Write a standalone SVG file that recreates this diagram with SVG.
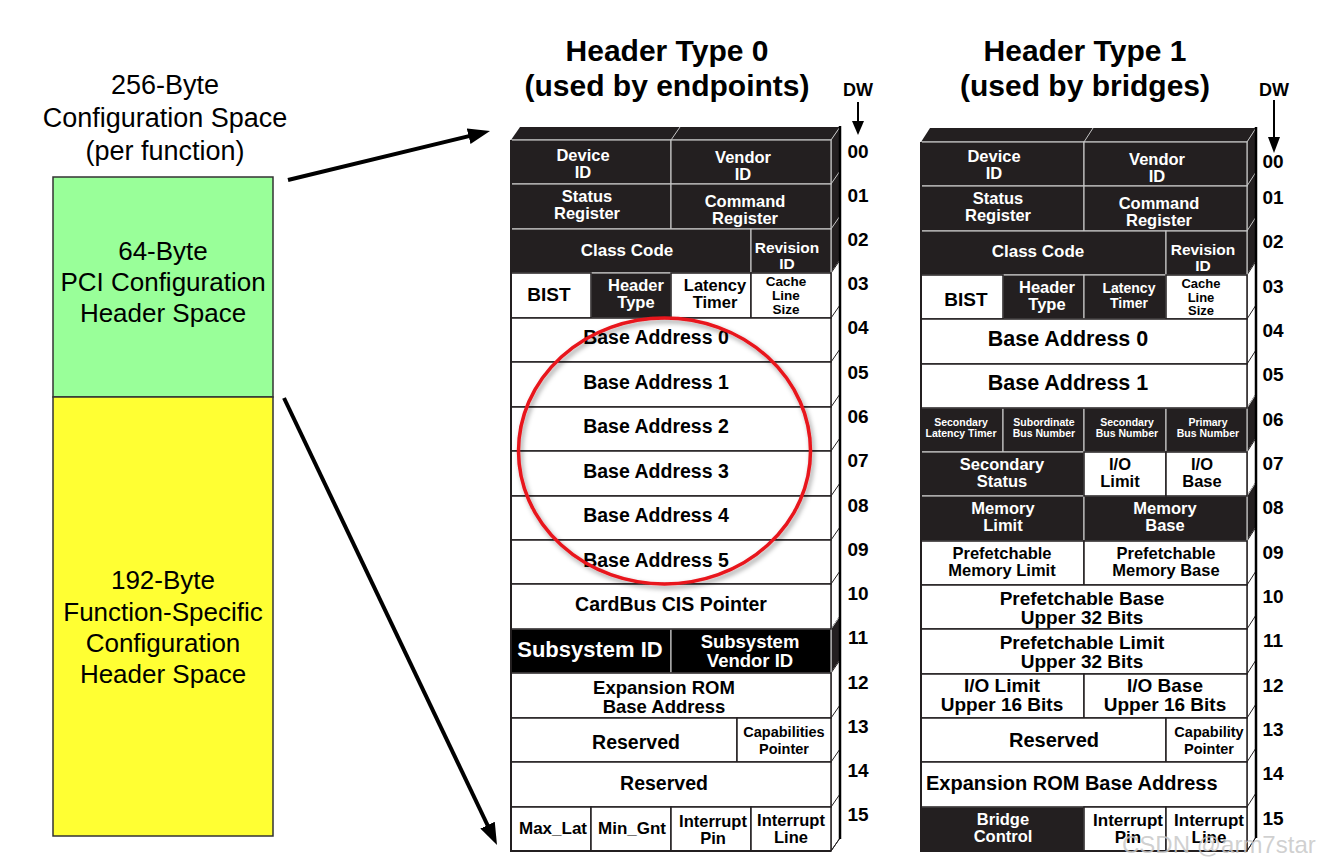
<svg xmlns="http://www.w3.org/2000/svg" width="1324" height="865" viewBox="0 0 1324 865">
<defs>
<style>
text{font-family:"Liberation Sans",Arial,Helvetica,sans-serif}
.b{font-weight:bold;text-anchor:middle}
.tw{fill:#fff}
.tk{fill:#000}
.dk{fill:#231f20;stroke:#c4c4c4;stroke-width:1.2}
.bk{fill:#000;stroke:#c4c4c4;stroke-width:1.2}
.wh{fill:#fff;stroke:#231f20;stroke-width:1.5}
.sd{fill:#fff;stroke:#231f20;stroke-width:1}
.sk{fill:#231f20;stroke:#c4c4c4;stroke-width:1}
.dg{stroke:#231f20;stroke-width:1;fill:none}
.lg{stroke:#c4c4c4;stroke-width:1;fill:none}
.s10{font-size:10.5px}.s13{font-size:13.5px}.s14{font-size:14.5px}.s15{font-size:15.5px}.s16{font-size:16.5px}.s17{font-size:17px}.s18{font-size:18.5px}.s19{font-size:19.5px}.s20{font-size:19px}.s21{font-size:21.5px}.s22{font-size:22px}
.ttl{font-size:30px;font-weight:bold;text-anchor:middle;fill:#000}
.lbl{font-size:26px;text-anchor:middle;fill:#000}
.num{font-size:19px;font-weight:bold;text-anchor:middle;fill:#000}
.dw{font-size:18px;font-weight:bold;text-anchor:middle;fill:#000}
</style>
<marker id="ah" markerUnits="userSpaceOnUse" markerWidth="24" markerHeight="18" refX="12" refY="8" orient="auto"><path d="M0,0 L22,8 L0,16 Z" fill="#000"/></marker>
<filter id="sh" x="-20%" y="-20%" width="140%" height="140%"><feDropShadow dx="2" dy="3" stdDeviation="2.5" flood-color="#000" flood-opacity="0.4"/></filter>
</defs>
<rect width="1324" height="865" fill="#fff"/>

<g id="title-left">
<text class="lbl" style="font-size:27px"><tspan x="165" y="94">256-Byte</tspan><tspan x="165" y="127">Configuration Space</tspan><tspan x="165" y="160">(per function)</tspan></text>
</g>
<g id="box-64">
<rect x="53" y="177" width="220" height="220" fill="#99ff99" stroke="#333" stroke-width="1.5"/>
<text class="lbl"><tspan x="163" y="260">64-Byte</tspan><tspan x="163" y="291">PCI Configuration</tspan><tspan x="163" y="322">Header Space</tspan></text>
</g>
<g id="box-192">
<rect x="53" y="397" width="220" height="439" fill="#ffff33" stroke="#333" stroke-width="1.5"/>
<text class="lbl"><tspan x="163" y="589">192-Byte</tspan><tspan x="163" y="621">Function-Specific</tspan><tspan x="163" y="652">Configuration</tspan><tspan x="163" y="683">Header Space</tspan></text>
</g>

<g id="titles">
<text class="ttl"><tspan x="667" y="61">Header Type 0</tspan><tspan x="667" y="96">(used by endpoints)</tspan></text>
<text class="ttl"><tspan x="1085" y="61">Header Type 1</tspan><tspan x="1085" y="96">(used by bridges)</tspan></text>
</g>

<!-- ===== Header Type 0 ===== -->
<g id="t0-frame">
<polygon points="511,140 520,127 840,127 831,140" fill="#231f20"/>
<line class="lg" x1="671" y1="140" x2="680" y2="127"/>
<line class="lg" x1="511" y1="140" x2="831" y2="140"/>
<polygon class="sk" points="831,140 840,127 840,260 831,273"/>
<line class="lg" x1="831" y1="184" x2="840" y2="171"/>
<line class="lg" x1="831" y1="229" x2="840" y2="216"/>
<polygon class="sd" points="831,273 840,260 840,616 831,629"/>
<polygon class="sk" points="831,629 840,616 840,660 831,673"/>
<polygon class="sd" points="831,673 840,660 840,838 831,851"/>
<path class="dg" d="M831,318 L840,305 M831,362 L840,349 M831,407 L840,394 M831,451 L840,438 M831,496 L840,483 M831,540 L840,527 M831,584 L840,571 M831,718 L840,705 M831,762 L840,749 M831,807 L840,794 M831,851 L840,838"/>
</g>
<g id="t0-dev"><rect class="dk" x="511" y="140" width="160" height="44"/><text class="b tw s16"><tspan x="583" y="160.5">Device</tspan><tspan x="583" y="177.5">ID</tspan></text></g>
<g id="t0-ven"><rect class="dk" x="671" y="140" width="160" height="44"/><text class="b tw s16"><tspan x="743" y="162.5">Vendor</tspan><tspan x="743" y="179.5">ID</tspan></text></g>
<g id="t0-sts"><rect class="dk" x="511" y="184" width="160" height="45"/><text class="b tw s16"><tspan x="587" y="202">Status</tspan><tspan x="587" y="219">Register</tspan></text></g>
<g id="t0-cmd"><rect class="dk" x="671" y="184" width="160" height="45"/><text class="b tw s16"><tspan x="745" y="206.5">Command</tspan><tspan x="745" y="223.5">Register</tspan></text></g>
<g id="t0-cls"><rect class="dk" x="511" y="229" width="240" height="44"/><text class="b tw s17" x="627" y="256">Class Code</text></g>
<g id="t0-rev"><rect class="dk" x="751" y="229" width="80" height="44"/><text class="b tw s15"><tspan x="787" y="252.5">Revision</tspan><tspan x="787" y="268.5">ID</tspan></text></g>
<g id="t0-hdr"><rect class="dk" x="591" y="273" width="80" height="45"/><text class="b tw s16"><tspan x="636" y="290.5">Header</tspan><tspan x="636" y="307.5">Type</tspan></text></g>
<g id="t0-ssid"><rect class="bk" x="511" y="629" width="160" height="44"/><text class="b tw s22" x="590" y="657">Subsystem ID</text></g>
<g id="t0-ssvid"><rect class="bk" x="671" y="629" width="160" height="44"/><text class="b tw s18"><tspan x="750" y="648">Subsystem</tspan><tspan x="750" y="667">Vendor ID</tspan></text></g>
<g id="t0-bist"><rect class="wh" x="511" y="273" width="80" height="45"/><text class="b tk" style="font-size:19px" x="549" y="301">BIST</text></g>
<g id="t0-lat"><rect class="wh" x="671" y="273" width="80" height="45"/><text class="b tk s16"><tspan x="715" y="290.5">Latency</tspan><tspan x="715" y="307.5">Timer</tspan></text></g>
<g id="t0-cache"><rect class="wh" x="751" y="273" width="80" height="45"/><text class="b tk s13"><tspan x="786" y="286">Cache</tspan><tspan x="786" y="300">Line</tspan><tspan x="786" y="314">Size</tspan></text></g>
<g id="t0-bar0"><rect class="wh" x="511" y="318" width="320" height="44"/><text class="b tk s19" x="656" y="344">Base Address 0</text></g>
<g id="t0-bar1"><rect class="wh" x="511" y="362" width="320" height="45"/><text class="b tk s19" x="656" y="389">Base Address 1</text></g>
<g id="t0-bar2"><rect class="wh" x="511" y="407" width="320" height="44"/><text class="b tk s19" x="656" y="433">Base Address 2</text></g>
<g id="t0-bar3"><rect class="wh" x="511" y="451" width="320" height="45"/><text class="b tk s19" x="656" y="478">Base Address 3</text></g>
<g id="t0-bar4"><rect class="wh" x="511" y="496" width="320" height="44"/><text class="b tk s19" x="656" y="522">Base Address 4</text></g>
<g id="t0-bar5"><rect class="wh" x="511" y="540" width="320" height="44"/><text class="b tk s19" x="656" y="567">Base Address 5</text></g>
<g id="t0-cis"><rect class="wh" x="511" y="584" width="320" height="45"/><text class="b tk s19" x="671" y="611">CardBus CIS Pointer</text></g>
<g id="t0-xrom"><rect class="wh" x="511" y="673" width="320" height="45"/><text class="b tk s18"><tspan x="664" y="693.5">Expansion ROM</tspan><tspan x="664" y="712.5">Base Address</tspan></text></g>
<g id="t0-rsv1"><rect class="wh" x="511" y="718" width="226" height="44"/><text class="b tk s19" x="636" y="749">Reserved</text></g>
<g id="t0-cap"><rect class="wh" x="737" y="718" width="94" height="44"/><text class="b tk s14"><tspan x="784" y="737">Capabilities</tspan><tspan x="784" y="754">Pointer</tspan></text></g>
<g id="t0-rsv2"><rect class="wh" x="511" y="762" width="320" height="45"/><text class="b tk s19" x="664" y="790">Reserved</text></g>
<g id="t0-maxlat"><rect class="wh" x="511" y="807" width="80" height="44"/><text class="b tk s17" x="553" y="834">Max_Lat</text></g>
<g id="t0-mingnt"><rect class="wh" x="591" y="807" width="80" height="44"/><text class="b tk s17" x="632" y="834">Min_Gnt</text></g>
<g id="t0-ipin"><rect class="wh" x="671" y="807" width="80" height="44"/><text class="b tk s16"><tspan x="713" y="827">Interrupt</tspan><tspan x="713" y="844">Pin</tspan></text></g>
<g id="t0-iline"><rect class="wh" x="751" y="807" width="80" height="44"/><text class="b tk s16"><tspan x="791" y="825.5">Interrupt</tspan><tspan x="791" y="842.5">Line</tspan></text></g>
<g id="t0-edges">
<path d="M511,140 V851 H831" fill="none" stroke="#231f20" stroke-width="2"/>
<line x1="840" y1="126" x2="840" y2="839" stroke="#000" stroke-width="2.5"/>
</g>
<g id="t0-dw">
<text class="dw" x="858" y="96">DW</text>
<line x1="858" y1="102" x2="858" y2="124" stroke="#000" stroke-width="2"/>
<polygon points="852,121 864,121 858,135" fill="#000"/>
<text class="num" x="858" y="158">00</text><text class="num" x="858" y="202">01</text><text class="num" x="858" y="246">02</text><text class="num" x="858" y="290">03</text>
<text class="num" x="858" y="334">04</text><text class="num" x="858" y="379">05</text><text class="num" x="858" y="423">06</text><text class="num" x="858" y="467">07</text>
<text class="num" x="858" y="512">08</text><text class="num" x="858" y="556">09</text><text class="num" x="858" y="600">10</text><text class="num" x="858" y="644">11</text>
<text class="num" x="858" y="689">12</text><text class="num" x="858" y="733">13</text><text class="num" x="858" y="777">14</text><text class="num" x="858" y="821">15</text>
</g>

<!-- ===== Header Type 1 ===== -->
<g id="t1-frame">
<polygon points="921,142 930,128 1256,128 1247,142" fill="#231f20"/>
<line class="lg" x1="1084" y1="142" x2="1093" y2="128"/>
<line class="lg" x1="921" y1="142" x2="1247" y2="142"/>
<polygon class="sk" points="1247,142 1256,128 1256,261 1247,275"/>
<line class="lg" x1="1247" y1="186" x2="1256" y2="172"/>
<line class="lg" x1="1247" y1="231" x2="1256" y2="217"/>
<polygon class="sd" points="1247,275 1256,261 1256,394 1247,408"/>
<polygon class="sk" points="1247,408 1256,394 1256,438 1247,452"/>
<polygon class="sd" points="1247,452 1256,438 1256,482 1247,496"/>
<polygon class="sk" points="1247,496 1256,482 1256,527 1247,541"/>
<polygon class="sd" points="1247,541 1256,527 1256,837 1247,851"/>
<path class="dg" d="M1247,319 L1256,305 M1247,364 L1256,350 M1247,585 L1256,571 M1247,629 L1256,615 M1247,674 L1256,660 M1247,718 L1256,704 M1247,762 L1256,748 M1247,807 L1256,793 M1247,851 L1256,837"/>
</g>
<g id="t1-dev"><rect class="dk" x="921" y="142" width="163" height="44"/><text class="b tw s16"><tspan x="994" y="162">Device</tspan><tspan x="994" y="179">ID</tspan></text></g>
<g id="t1-ven"><rect class="dk" x="1084" y="142" width="163" height="44"/><text class="b tw s16"><tspan x="1157" y="165">Vendor</tspan><tspan x="1157" y="182">ID</tspan></text></g>
<g id="t1-sts"><rect class="dk" x="921" y="186" width="163" height="45"/><text class="b tw s16"><tspan x="998" y="203.5">Status</tspan><tspan x="998" y="220.5">Register</tspan></text></g>
<g id="t1-cmd"><rect class="dk" x="1084" y="186" width="163" height="45"/><text class="b tw s16"><tspan x="1159" y="208.5">Command</tspan><tspan x="1159" y="225.5">Register</tspan></text></g>
<g id="t1-cls"><rect class="dk" x="921" y="231" width="245" height="44"/><text class="b tw s17" x="1038" y="257">Class Code</text></g>
<g id="t1-rev"><rect class="dk" x="1166" y="231" width="81" height="44"/><text class="b tw s15"><tspan x="1203" y="255">Revision</tspan><tspan x="1203" y="271">ID</tspan></text></g>
<g id="t1-hdr"><rect class="dk" x="1003" y="275" width="81" height="44"/><text class="b tw s16"><tspan x="1047" y="292.5">Header</tspan><tspan x="1047" y="309.5">Type</tspan></text></g>
<g id="t1-lat"><rect class="dk" x="1084" y="275" width="82" height="44"/><text class="b tw" style="font-size:14px"><tspan x="1129" y="292.5">Latency</tspan><tspan x="1129" y="307.5">Timer</tspan></text></g>
<g id="t1-slt"><rect class="dk" x="921" y="408" width="82" height="44"/><text class="b tw s10"><tspan x="961" y="426">Secondary</tspan><tspan x="961" y="437">Latency Timer</tspan></text></g>
<g id="t1-sub"><rect class="dk" x="1003" y="408" width="81" height="44"/><text class="b tw s10"><tspan x="1044" y="426">Subordinate</tspan><tspan x="1044" y="437">Bus Number</tspan></text></g>
<g id="t1-sec"><rect class="dk" x="1084" y="408" width="82" height="44"/><text class="b tw s10"><tspan x="1127" y="426">Secondary</tspan><tspan x="1127" y="437">Bus Number</tspan></text></g>
<g id="t1-pri"><rect class="dk" x="1166" y="408" width="81" height="44"/><text class="b tw s10"><tspan x="1208" y="426">Primary</tspan><tspan x="1208" y="437">Bus Number</tspan></text></g>
<g id="t1-ss"><rect class="dk" x="921" y="452" width="163" height="44"/><text class="b tw s16"><tspan x="1002" y="469.5">Secondary</tspan><tspan x="1002" y="486.5">Status</tspan></text></g>
<g id="t1-ml"><rect class="dk" x="921" y="496" width="163" height="45"/><text class="b tw s16"><tspan x="1003" y="513.5">Memory</tspan><tspan x="1003" y="530.5">Limit</tspan></text></g>
<g id="t1-mb"><rect class="dk" x="1084" y="496" width="163" height="45"/><text class="b tw s16"><tspan x="1165" y="513.5">Memory</tspan><tspan x="1165" y="530.5">Base</tspan></text></g>
<g id="t1-brc"><rect class="dk" x="921" y="807" width="163" height="44"/><text class="b tw s16"><tspan x="1003" y="824.5">Bridge</tspan><tspan x="1003" y="841.5">Control</tspan></text></g>
<g id="t1-bist"><rect class="wh" x="921" y="275" width="82" height="44"/><text class="b tk" style="font-size:19px" x="966" y="306">BIST</text></g>
<g id="t1-cache"><rect class="wh" x="1166" y="275" width="81" height="44"/><text class="b tk" style="font-size:13px"><tspan x="1201" y="288">Cache</tspan><tspan x="1201" y="301.5">Line</tspan><tspan x="1201" y="315">Size</tspan></text></g>
<g id="t1-bar0"><rect class="wh" x="921" y="319" width="326" height="45"/><text class="b tk s21" x="1068" y="346">Base Address 0</text></g>
<g id="t1-bar1"><rect class="wh" x="921" y="364" width="326" height="44"/><text class="b tk s21" x="1068" y="390">Base Address 1</text></g>
<g id="t1-iol"><rect class="wh" x="1084" y="452" width="82" height="44"/><text class="b tk s16"><tspan x="1120" y="469.5">I/O</tspan><tspan x="1120" y="486.5">Limit</tspan></text></g>
<g id="t1-iob"><rect class="wh" x="1166" y="452" width="81" height="44"/><text class="b tk s16"><tspan x="1202" y="469.5">I/O</tspan><tspan x="1202" y="486.5">Base</tspan></text></g>
<g id="t1-pml"><rect class="wh" x="921" y="541" width="163" height="44"/><text class="b tk s16"><tspan x="1002" y="558.5">Prefetchable</tspan><tspan x="1002" y="575.5">Memory Limit</tspan></text></g>
<g id="t1-pmb"><rect class="wh" x="1084" y="541" width="163" height="44"/><text class="b tk s16"><tspan x="1166" y="558.5">Prefetchable</tspan><tspan x="1166" y="575.5">Memory Base</tspan></text></g>
<g id="t1-pbu"><rect class="wh" x="921" y="585" width="326" height="44"/><text class="b tk s20"><tspan x="1082" y="604.5">Prefetchable Base</tspan><tspan x="1082" y="623.5">Upper 32 Bits</tspan></text></g>
<g id="t1-plu"><rect class="wh" x="921" y="629" width="326" height="45"/><text class="b tk s20"><tspan x="1082" y="648.5">Prefetchable Limit</tspan><tspan x="1082" y="667.5">Upper 32 Bits</tspan></text></g>
<g id="t1-iolu"><rect class="wh" x="921" y="674" width="163" height="44"/><text class="b tk s20"><tspan x="1002" y="691.5">I/O Limit</tspan><tspan x="1002" y="710.5">Upper 16 Bits</tspan></text></g>
<g id="t1-iobu"><rect class="wh" x="1084" y="674" width="163" height="44"/><text class="b tk s20"><tspan x="1165" y="691.5">I/O Base</tspan><tspan x="1165" y="710.5">Upper 16 Bits</tspan></text></g>
<g id="t1-rsv"><rect class="wh" x="921" y="718" width="245" height="44"/><text class="b tk" style="font-size:20px" x="1054" y="747">Reserved</text></g>
<g id="t1-cap"><rect class="wh" x="1166" y="718" width="81" height="44"/><text class="b tk s14"><tspan x="1209" y="737">Capability</tspan><tspan x="1209" y="754">Pointer</tspan></text></g>
<g id="t1-xrom"><rect class="wh" x="921" y="762" width="326" height="45"/><text class="tk" style="font-size:20px;font-weight:bold" x="926" y="790">Expansion ROM Base Address</text></g>
<g id="t1-ipin"><rect class="wh" x="1084" y="807" width="82" height="44"/><text class="b tk s17"><tspan x="1128" y="825.5">Interrupt</tspan><tspan x="1128" y="842.5">Pin</tspan></text></g>
<g id="t1-iline"><rect class="wh" x="1166" y="807" width="81" height="44"/><text class="b tk s17"><tspan x="1209" y="825.5">Interrupt</tspan><tspan x="1209" y="842.5">Line</tspan></text></g>
<g id="t1-edges">
<path d="M921,142 V851 H1247" fill="none" stroke="#231f20" stroke-width="2"/>
<line x1="1256" y1="127" x2="1256" y2="838" stroke="#000" stroke-width="2.5"/>
</g>
<g id="t1-dw">
<text class="dw" x="1274" y="96">DW</text>
<line x1="1274" y1="100" x2="1274" y2="140" stroke="#000" stroke-width="2"/>
<polygon points="1268,137 1280,137 1274,153" fill="#000"/>
<text class="num" x="1273" y="168">00</text><text class="num" x="1273" y="204">01</text><text class="num" x="1273" y="248">02</text><text class="num" x="1273" y="293">03</text>
<text class="num" x="1273" y="337">04</text><text class="num" x="1273" y="381">05</text><text class="num" x="1273" y="426">06</text><text class="num" x="1273" y="470">07</text>
<text class="num" x="1273" y="514">08</text><text class="num" x="1273" y="559">09</text><text class="num" x="1273" y="603">10</text><text class="num" x="1273" y="647">11</text>
<text class="num" x="1273" y="692">12</text><text class="num" x="1273" y="736">13</text><text class="num" x="1273" y="780">14</text><text class="num" x="1273" y="825">15</text>
</g>

<g id="highlight">
<ellipse cx="664.5" cy="451" rx="146" ry="133" fill="none" stroke="#e8141c" stroke-width="3.5" filter="url(#sh)"/>
</g>

<g id="connectors">
<line x1="288" y1="180" x2="480.3" y2="133.4" stroke="#000" stroke-width="4" marker-end="url(#ah)"/>
<line x1="284" y1="398" x2="492.7" y2="836" stroke="#000" stroke-width="4" marker-end="url(#ah)"/>
</g>

<g id="watermark">
<text x="1122" y="853" style="font-size:24px" fill="#c8c8c8" fill-opacity="0.85">CSDN @arm7star</text>
</g>
</svg>
